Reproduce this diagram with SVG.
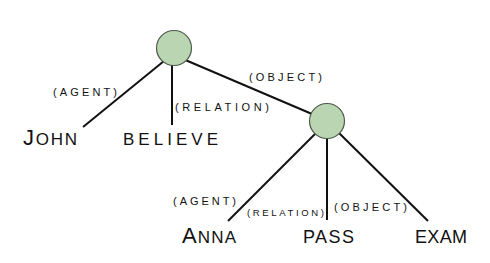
<svg xmlns="http://www.w3.org/2000/svg" width="490" height="263" viewBox="0 0 490 263">
<style>
.edge{stroke:#111;stroke-width:2;fill:none}
.node{fill:#b9d5b2;stroke:#4d5a4b;stroke-width:1.2}
.word{font-family:"Liberation Sans",Arial,sans-serif;font-size:17px;fill:#111}
.cap{font-size:22px}
.lab{font-family:"Liberation Sans",Arial,sans-serif;font-size:11px;fill:#111}
</style>
<rect width="490" height="263" fill="#fff"/>
<g id="connectors">
<line class="edge" x1="164" y1="61" x2="83" y2="127"/>
<line class="edge" x1="172" y1="60" x2="172" y2="125"/>
<line class="edge" x1="183" y1="59" x2="312" y2="114"/>
<line class="edge" x1="317" y1="132" x2="228" y2="221"/>
<line class="edge" x1="327" y1="130" x2="327" y2="220"/>
<line class="edge" x1="338" y1="132" x2="428" y2="221"/>
</g>
<g id="node-root"><circle class="node" cx="174" cy="48" r="17.5"/></g>
<g id="node-sub"><circle class="node" cx="327" cy="121" r="17.5"/></g>
<g id="labels">
<text class="lab" x="53" y="96" textLength="64" lengthAdjust="spacing">(AGENT)</text>
<text class="lab" x="175" y="110.5" textLength="94" lengthAdjust="spacing">(RELATION)</text>
<text class="lab" x="249" y="80.5" textLength="73" lengthAdjust="spacing">(OBJECT)</text>
<text class="lab" x="173" y="205" textLength="63" lengthAdjust="spacing">(AGENT)</text>
<text class="lab" x="247" y="215.5" textLength="77" lengthAdjust="spacing" style="font-size:9.5px">(RELATION)</text>
<text class="lab" x="334" y="210.5" textLength="73" lengthAdjust="spacing">(OBJECT)</text>
</g>
<g id="word-john"><text class="word" x="23" y="145" textLength="54" lengthAdjust="spacing"><tspan class="cap">J</tspan>OHN</text></g>
<g id="word-believe"><text class="word" x="123" y="145" textLength="95" lengthAdjust="spacing">BELIEVE</text></g>
<g id="word-anna"><text class="word" x="182" y="243" textLength="54" lengthAdjust="spacing"><tspan class="cap">A</tspan>NNA</text></g>
<g id="word-pass"><text class="word" x="303" y="243" textLength="51" lengthAdjust="spacing" style="font-size:18px">PASS</text></g>
<g id="word-exam"><text class="word" x="415" y="243" textLength="52" lengthAdjust="spacing" style="font-size:18px">EXAM</text></g>
</svg>
